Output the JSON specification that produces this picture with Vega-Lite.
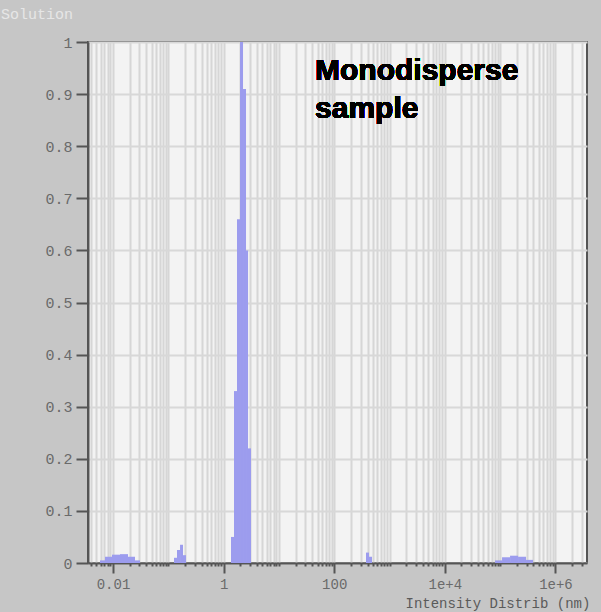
{
  "$schema": "https://vega.github.io/schema/vega-lite/v6.json",
  "autosize": {"type": "none"},
  "width": 499,
  "height": 521,
  "padding": {"left": 88, "top": 42, "right": 14, "bottom": 49},
  "background": "#c6c6c6",
  "view": {"fill": "#f3f3f3", "stroke": "#555555", "strokeWidth": 2},
  "title": {
    "text": "Solution",
    "anchor": "start",
    "frame": "group",
    "dx": -87,
    "offset": 13,
    "font": "Liberation Mono",
    "fontSize": 15,
    "fontWeight": "normal",
    "color": "#e6e6e6"
  },
  "data": {
    "values": [
      {"lo": 0.00582, "hi": 0.00716, "v": 0.005},
      {"lo": 0.00716, "hi": 0.00959, "v": 0.012},
      {"lo": 0.00959, "hi": 0.01339, "v": 0.016},
      {"lo": 0.01339, "hi": 0.01868, "v": 0.017},
      {"lo": 0.01868, "hi": 0.0250, "v": 0.012},
      {"lo": 0.0250, "hi": 0.0308, "v": 0.005},
      {"lo": 0.1268, "hi": 0.1436, "v": 0.01},
      {"lo": 0.1436, "hi": 0.1629, "v": 0.025},
      {"lo": 0.1629, "hi": 0.1845, "v": 0.035},
      {"lo": 0.1845, "hi": 0.2089, "v": 0.015},
      {"lo": 1.361, "hi": 1.542, "v": 0.05},
      {"lo": 1.542, "hi": 1.746, "v": 0.33},
      {"lo": 1.746, "hi": 1.980, "v": 0.66},
      {"lo": 1.980, "hi": 2.243, "v": 1.0},
      {"lo": 2.243, "hi": 2.541, "v": 0.91},
      {"lo": 2.541, "hi": 2.762, "v": 0.6},
      {"lo": 2.762, "hi": 3.129, "v": 0.22},
      {"lo": 375.8, "hi": 425.6, "v": 0.02},
      {"lo": 425.6, "hi": 482.5, "v": 0.012},
      {"lo": 80900, "hi": 108200, "v": 0.005},
      {"lo": 108200, "hi": 151000, "v": 0.011},
      {"lo": 151000, "hi": 210700, "v": 0.014},
      {"lo": 210700, "hi": 294000, "v": 0.012},
      {"lo": 294000, "hi": 393500, "v": 0.006}
    ]
  },
  "layer": [
    {
      "mark": {"type": "bar", "color": "#9c9cee", "clip": true},
      "encoding": {
        "x": {
          "field": "lo",
          "type": "quantitative",
          "scale": {"type": "log", "domain": [0.00353, 3720000], "nice": false},
          "axis": {
            "title": "Intensity Distrib (nm)",
            "values": [0.004,0.005,0.006,0.007,0.008,0.009,0.01,0.02,0.03,0.04,0.05,0.06,0.07,0.08,0.09,0.1,0.2,0.3,0.4,0.5,0.6,0.7,0.8,0.9,1,2,3,4,5,6,7,8,9,10,20,30,40,50,60,70,80,90,100,200,300,400,500,600,700,800,900,1000,2000,3000,4000,5000,6000,7000,8000,9000,10000,20000,30000,40000,50000,60000,70000,80000,90000,100000,200000,300000,400000,500000,600000,700000,800000,900000,1000000,2000000,3000000],
            "labelExpr": "(abs(log(datum.value)/LN10 - round(log(datum.value)/LN10)) < 0.001) ? (round(log(datum.value)/LN10) == -2 ? '0.01' : round(log(datum.value)/LN10) == 0 ? '1' : round(log(datum.value)/LN10) == 2 ? '100' : round(log(datum.value)/LN10) == 4 ? '1e+4' : round(log(datum.value)/LN10) == 6 ? '1e+6' : '') : ''",
            "labelOverlap": false,
            "labelFont": "Liberation Mono",
            "labelFontSize": 14,
            "labelColor": "#6a6a6a",
            "labelPadding": 4,
            "tickSize": {"condition": {"test": "abs(log(datum.value)/LN10 - round(log(datum.value)/LN10)) < 0.001 && round(log(datum.value)/LN10) % 2 == 0", "value": 10}, "value": 3},
            "tickColor": "#555555",
            "tickWidth": 2,
            "domainColor": "#555555",
            "domainWidth": 2,
            "grid": true,
            "gridColor": "#d6d6d6",
            "gridWidth": 2,
            "titleFont": "Liberation Mono",
            "titleFontSize": 14,
            "titleFontWeight": "normal",
            "titleColor": "#5a5a5a",
            "titleAnchor": "start",
            "titleAlign": "left",
            "titleBaseline": "alphabetic",
            "titleX": 317,
            "titleY": 44
          }
        },
        "x2": {"field": "hi"},
        "y": {
          "field": "v",
          "type": "quantitative",
          "scale": {"domain": [0, 1], "nice": false},
          "axis": {
            "title": null,
            "values": [0,0.1,0.2,0.3,0.4,0.5,0.6,0.7,0.8,0.9,1],
            "format": "~g",
            "labelFont": "Liberation Mono",
            "labelFontSize": 15,
            "labelColor": "#6a6a6a",
            "labelPadding": 4,
            "tickSize": 12,
            "tickColor": "#555555",
            "tickWidth": 2,
            "domainColor": "#555555",
            "domainWidth": 2,
            "grid": true,
            "gridColor": "#d8d8d8",
            "gridWidth": 2
          }
        },
        "y2": {"datum": 0}
      }
    },
    {
      "mark": {"type": "text", "align": "left", "baseline": "alphabetic", "font": "Liberation Sans", "fontWeight": "bold", "fontSize": 30, "lineHeight": 38, "lineBreak": "\n", "color": "#000000"},
      "encoding": {
        "x": {"datum": 45},
        "y": {"datum": 0.927},
        "text": {"value": "Monodisperse\nsample"}
      }
    }
  ]
}
